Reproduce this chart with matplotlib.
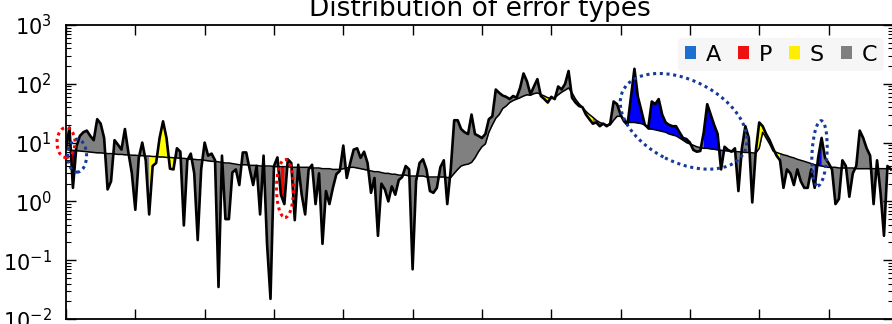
import numpy as np
import matplotlib
matplotlib.use("Agg")
import matplotlib.pyplot as plt
from matplotlib.patches import Ellipse, Patch
from matplotlib.transforms import ScaledTranslation

# observed error level per sample
observed = [
    8.2, 18, 1.7, 8.5, 13, 15, 16, 13, 11, 25, 21, 12, 1.6, 2.2, 11, 9.2, 7.6, 17, 6.8, 3.0,
    0.72, 5.5, 10, 5, 0.6, 4.0, 4.5, 12, 23, 12, 3.6, 3.5, 8, 7, 0.39, 5, 6.5, 3, 0.22, 3.5,
    10, 6, 6.5, 5, 0.035, 6, 0.5, 0.5, 3.1, 3.5, 1.9, 6.8, 6.8, 3.5, 1.9, 4, 0.6, 6, 0.19, 0.022,
    4, 5.6, 1.3, 0.9, 5.2, 4.5, 0.48, 4.2, 1.3, 0.6, 3.5, 4.2, 0.9, 3, 0.19, 1.5, 0.9, 1.7, 2.9, 3.3,
    8.9, 2.5, 4.5, 7.6, 8, 5.5, 7, 4.5, 1.4, 2.5, 0.26, 2, 1.6, 1.0, 1.8, 1.3, 2.3, 2.6, 4, 3.5,
    0.07, 2.2, 4.5, 5.2, 3.5, 1.5, 1.4, 1.7, 3.8, 5, 0.9, 3.5, 24, 24, 17, 15, 14, 30, 14, 13,
    12, 14, 25, 28, 80, 70, 63, 60, 55, 62, 58, 85, 150, 110, 66, 90, 120, 62, 55, 48,
    60, 55, 90, 80, 100, 165, 58, 48, 42, 40, 30, 25, 21, 22, 19, 21, 19, 21, 50, 45,
    30, 23, 20, 60, 180, 60, 35, 20, 18, 50, 45, 55, 30, 22, 20, 19, 19, 15, 12, 11.5,
    10, 7.5, 7, 7.2, 15, 45, 30, 20, 14, 3.5, 8.5, 7.5, 7, 8, 1.5, 8, 19, 12, 0.96, 7,
    22, 19, 14, 11, 8, 6, 5, 1.7, 3.5, 3, 1.9, 3.5, 2.2, 1.7, 1.7, 3.5, 1.7, 5.5, 12, 5.5,
    4.5, 3.5, 0.9, 1.1, 5, 4, 1.2, 3, 4, 16, 12, 8, 6, 0.9, 5, 1.4, 0.26, 4, 3.5,
]

# expected level (trend) per sample
expected = [
    7.6, 7.5, 7.4, 7.3, 7.2, 7.1, 7.0, 6.9, 6.8,
    6.7, 6.7, 6.6, 6.5, 6.5, 6.4, 6.3, 6.3, 6.2, 6.2, 6.1, 6.1, 6.0, 6.0, 5.9, 5.9,
    5.8, 5.8, 5.7, 5.7, 5.6, 5.6, 5.5, 5.5, 5.4, 5.4, 5.3, 5.2, 5.2, 5.1, 5.1, 5.0,
    4.9, 4.8, 4.8, 4.7, 4.6, 4.5, 4.5, 4.4, 4.3, 4.2,
    4.2, 4.2, 4.1, 4.1, 4.1, 4.0, 4.0, 4.0, 4.0, 3.9, 3.9, 3.9, 3.9, 3.9, 3.8, 3.8, 3.8, 3.8, 3.8,
    3.8, 3.7, 3.7, 3.7, 3.6, 3.6, 3.6, 3.5, 3.5, 3.5,
    3.6, 3.7, 3.8, 3.8, 3.7,
    3.6, 3.5, 3.4, 3.3, 3.2, 3.2, 3.1, 3.0, 3.0, 2.9, 2.9, 2.8, 2.8, 2.8, 2.7, 2.7,
    2.7, 2.7, 2.7, 2.6, 2.6, 2.6, 2.6, 2.6, 2.6, 2.55, 2.55,
    3.0, 3.5, 4.0, 4.2, 4.3, 4.6, 5.5, 7, 8.5, 9.5, 15, 20, 26, 30, 38, 42, 48, 52, 55, 58,
    62, 65, 64, 68, 70, 66,
    62, 58, 56, 58, 65, 72, 78, 85, 70, 55, 46, 40, 34, 30, 27, 24, 22, 21, 20, 20,
    24, 28, 28, 25, 22,
    22, 22, 21.5, 21, 20, 17, 17, 16.5, 16, 15.5, 15, 14, 13.5, 13, 12, 11, 10, 9.5,
    9, 8.5, 8.2, 8.0, 8.0, 7.8, 7.7, 7.5, 7.4, 7.3, 7.2, 7.1, 7.0, 7.0, 6.9, 6.8, 6.8, 6.7, 6.6,
    8, 15, 12, 9.5, 7.2, 6.8, 6.5,
    6.2, 6.0, 5.7, 5.5, 5.2, 5.0, 4.8, 4.6, 4.4, 4.2, 4.1, 4.0, 3.9, 3.8,
    3.8, 3.8, 3.7, 3.7, 3.7, 3.7, 3.7, 3.6, 3.6, 3.6, 3.6, 3.6, 3.6, 3.6, 3.6, 3.6, 3.6, 3.6,
]

# error type of each stretch of samples: (type, number of samples)
type_runs = [
    ("C", 2), ("P", 1), ("A", 1), ("C", 21), ("S", 7), ("C", 31), ("P", 1), ("C", 74),
    ("S", 3), ("C", 10), ("S", 2), ("C", 10), ("A", 18), ("C", 4), ("A", 5), ("C", 10),
    ("S", 7), ("C", 10), ("A", 2), ("C", 20),
]
type_names = ["A", "P", "S", "C"]
sample_step = 5

fill_colors = {"A": "#0000ff", "P": "#ff0000", "S": "#ffff00", "C": "#808080"}
legend_colors = {"A": "#1a6fd1", "P": "#ee1111", "S": "#ffee00", "C": "#7f7f7f"}

# highlighted spots: centre x, centre value, width / height (inches), angle, colour
highlights = [
    (0, 10, 0.18, 0.30, 0, "#ff0000"),
    (16, 6.0, 0.19, 0.33, 0, "#16399a"),
    (316, 1.66, 0.17, 0.58, 0, "#ff0000"),
    (891, 23, 1.36, 0.82, -27, "#16399a"),
    (1087, 6.6, 0.15, 0.65, -3, "#16399a"),
]

obs = np.array(observed)
exp = np.array(expected)
x = np.arange(len(obs)) * sample_step
kinds = np.array(list("".join(k * n for k, n in type_runs)))

fig = plt.figure(figsize=(8.92, 3.24), dpi=100)
ax = fig.add_axes([66 / 892, 5 / 324, 827 / 892, 294 / 324])

# gray everywhere, then the other types on top (each run starts one sample early)
ax.fill_between(x, obs, exp, color=fill_colors["C"], linewidth=0, zorder=1)
for k in ["S", "A", "P"]:
    m = kinds == k
    wide = m.copy()
    wide[:-1] |= m[1:]
    ax.fill_between(x, obs, exp, where=wide, color=fill_colors[k], linewidth=0, zorder=1)

ax.plot(x, exp, color="black", lw=1.1, zorder=2)
ax.plot(x, obs, color="black", lw=1.9, zorder=3)

ax.set_yscale("log")
ax.set_ylim(1e-2, 1e3)
ax.set_xlim(0, 1193)
ax.set_xticks(np.arange(0, 1200, 100))
ax.tick_params(which="both", direction="in", top=True, right=True, labelbottom=False)
ax.tick_params(which="major", length=7, width=1)
ax.tick_params(which="minor", length=3.5, width=0.8)
ax.tick_params(axis="y", labelsize=15, pad=10)
for s in ax.spines.values():
    s.set_linewidth(1.3)

ax.set_title("Distribution of error types", fontsize=19, pad=6.5)

handles = [Patch(facecolor=legend_colors[k], edgecolor="none") for k in type_names]
leg = ax.legend(handles, type_names, ncol=4, loc="upper right",
                bbox_to_anchor=(0.989, 0.956), fontsize=16, frameon=True,
                handlelength=0.5, handleheight=0.55, handletextpad=0.45,
                columnspacing=0.75, borderpad=0.3, borderaxespad=0)
leg.get_frame().set_facecolor("#f6f6f6")
leg.get_frame().set_edgecolor("none")
leg.get_frame().set_alpha(0.9)

for xc, yc, w, h, ang, col in highlights:
    tr = fig.dpi_scale_trans + ScaledTranslation(xc, yc, ax.transData)
    e = Ellipse((0, 0), w, h, angle=ang, transform=tr, fill=False,
                edgecolor=col, lw=2.2, linestyle=(0, (1, 1.2)), zorder=5)
    fig.add_artist(e)

fig.savefig("out.png", dpi=100)
